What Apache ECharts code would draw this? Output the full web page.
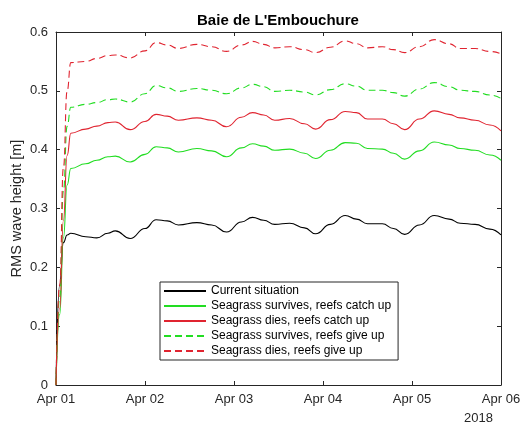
<!DOCTYPE html>
<html>
<head>
<meta charset="utf-8">
<script src="https://cdn.jsdelivr.net/npm/echarts@6/dist/echarts.min.js"></script>
<style>
html,body{margin:0;padding:0;background:#fff;}
#chart{width:526px;height:426px;}
</style>
</head>
<body>
<div id="chart"></div>
<script>
// Time in hours since Apr 01 00:00, 2018
const hours = [0,1,2,3,4,8,11,14,16,20,24,27,30,33,38,42,46,50,53,56,59,63,67,70,74,78,81,84,88,91,94,98,102,106,109,113,117,120];
const currentSituation = [0,0.17,0.242,0.255,0.258,0.252,0.250,0.258,0.262,0.249,0.266,0.281,0.279,0.272,0.276,0.272,0.260,0.277,0.285,0.280,0.273,0.275,0.267,0.257,0.273,0.288,0.282,0.274,0.274,0.266,0.256,0.272,0.288,0.282,0.275,0.273,0.265,0.255];
const survivesCatchUp = [0,0.12,0.25,0.34,0.368,0.376,0.382,0.388,0.389,0.379,0.392,0.405,0.403,0.396,0.402,0.398,0.388,0.403,0.410,0.406,0.399,0.401,0.394,0.385,0.399,0.412,0.411,0.402,0.401,0.394,0.384,0.398,0.413,0.408,0.402,0.399,0.391,0.382];
const diesCatchUp = [0,0.13,0.28,0.39,0.428,0.435,0.440,0.446,0.447,0.434,0.448,0.460,0.457,0.450,0.454,0.450,0.439,0.455,0.463,0.459,0.450,0.453,0.444,0.435,0.451,0.465,0.463,0.452,0.452,0.444,0.434,0.452,0.466,0.460,0.454,0.450,0.442,0.432];
const survivesGiveUp = [0,0.15,0.33,0.44,0.472,0.477,0.480,0.485,0.486,0.481,0.495,0.509,0.505,0.499,0.504,0.501,0.495,0.505,0.511,0.507,0.499,0.501,0.498,0.493,0.502,0.512,0.508,0.501,0.501,0.497,0.491,0.503,0.514,0.507,0.501,0.499,0.493,0.487];
const diesGiveUp = [0,0.17,0.37,0.50,0.548,0.550,0.555,0.560,0.561,0.556,0.568,0.582,0.578,0.572,0.579,0.575,0.567,0.578,0.584,0.579,0.573,0.575,0.570,0.565,0.574,0.585,0.580,0.573,0.575,0.570,0.565,0.575,0.587,0.580,0.572,0.572,0.567,0.563];
const seriesNames = ['Current situation','Seagrass survives, reefs catch up','Seagrass dies, reefs catch up','Seagrass survives, reefs give up','Seagrass dies, reefs give up'];
const xTickLabels = ['Apr 01','Apr 02','Apr 03','Apr 04','Apr 05','Apr 06'];
const yTicks = [0,0.1,0.2,0.3,0.4,0.5,0.6];
const titleText = "Baie de L'Embouchure";
const yAxisName = 'RMS wave height [m]';
const yearLabel = '2018';

const FONT = "'Liberation Sans', Arial, Helvetica, sans-serif";
const AX = '#262626';
const RED = '#e02430';
const GREEN = '#22dd22';

const chart = echarts.init(document.getElementById('chart'), null, {renderer:'canvas'});
const allVals = [currentSituation, survivesCatchUp, diesCatchUp, survivesGiveUp, diesGiveUp];
const colors = ['#000000', GREEN, RED, GREEN, RED];
const dashed = [false,false,false,true,true];

const series = allVals.map((vals,k)=>({
  name: seriesNames[k],
  type: 'line',
  data: hours.map((h,i)=>[h, vals[i]]),
  showSymbol: false,
  symbol: 'none',
  smooth: 0.5,
  smoothMonotone: 'x',
  color: colors[k],
  lineStyle: {color: colors[k], width: 1.1, type: dashed[k] ? [7,4] : 'solid'},
  animation: false,
  z: 2
}));

const baseAxisCommon = {
  axisLine: {show:true, onZero:false, lineStyle:{color:AX, width:1}},
  axisTick: {show:true, inside:true, length:4, lineStyle:{color:AX, width:1}},
  splitLine: {show:false}
};

chart.setOption({
  animation: false,
  backgroundColor: '#fff',
  textStyle: {fontFamily: FONT},
  title: {
    text: titleText, left: 273, top: 8, textAlign: 'center',
    textStyle: {fontFamily: FONT, fontSize: 15, fontWeight: 'bold', color: '#000'}
  },
  grid: {left: 56, top: 32, right: 25, bottom: 41, containLabel: false, outerBoundsMode: 'none'},
  xAxis: [
    Object.assign({}, baseAxisCommon, {
      type: 'value', min: 0, max: 120, interval: 24, position: 'bottom',
      axisLabel: {show:true, margin: 8, fontSize: 13, color: AX, fontFamily: FONT,
        formatter: v => xTickLabels[Math.round(v/24)]}
    }),
    Object.assign({}, baseAxisCommon, {
      type: 'value', min: 0, max: 120, interval: 24, position: 'top',
      axisLabel: {show:false}
    })
  ],
  yAxis: [
    Object.assign({}, baseAxisCommon, {
      type: 'value', min: yTicks[0], max: yTicks[yTicks.length-1], interval: 0.1, position: 'left',
      name: yAxisName, nameLocation: 'middle', nameGap: 32, nameMoveOverlap: false,
      nameTextStyle: {fontSize: 14.5, color: AX, fontFamily: FONT},
      axisLabel: {show:true, margin: 8, fontSize: 13, color: AX, fontFamily: FONT,
        formatter: v => (Math.abs(v) < 1e-9 ? '0' : v.toFixed(1))}
    }),
    Object.assign({}, baseAxisCommon, {
      type: 'value', min: yTicks[0], max: yTicks[yTicks.length-1], interval: 0.1, position: 'right',
      axisLabel: {show:false}
    })
  ],
  legend: {
    orient: 'vertical', left: 160, top: 282,
    padding: [3,7,3,3], itemGap: 3, itemWidth: 42, itemHeight: 14,
    borderColor: AX, borderWidth: 1, backgroundColor: '#fff',
    itemStyle: {opacity: 0},
    textStyle: {fontSize: 12, color: '#000', fontFamily: FONT},
    data: seriesNames
  },
  graphic: [{
    type: 'text', left: 464, top: 412,
    style: {text: yearLabel, fontSize: 13, fill: AX, fontFamily: FONT}
  }],
  series: series
});
</script>
</body>
</html>
